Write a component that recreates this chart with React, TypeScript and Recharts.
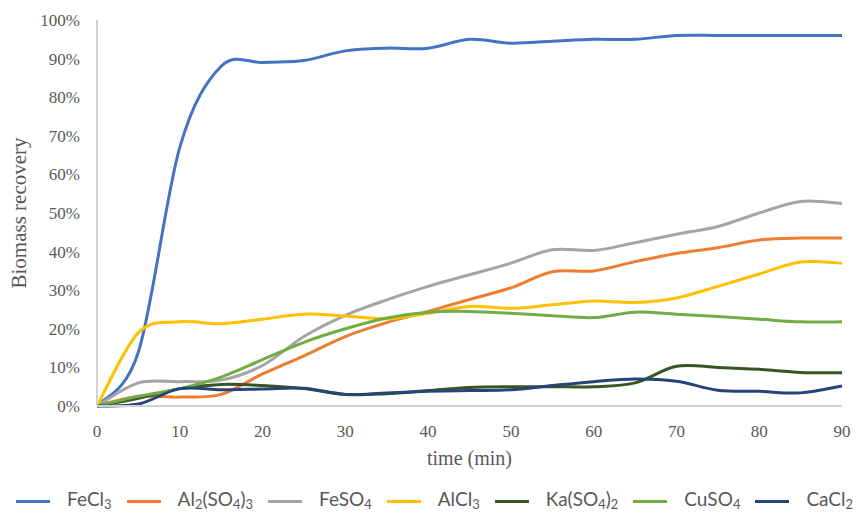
import React from "react";
import { Label, Legend, Line, LineChart, XAxis, YAxis } from "recharts";

// sampling times (min)
const times = [0, 5, 10, 15, 20, 25, 30, 35, 40, 45, 50, 55, 60, 65, 70, 75, 80, 85, 90];

// biomass recovery (%) per coagulant
const fecl3 = [0, 14, 67, 88, 89, 89.5, 92, 92.7, 92.7, 95, 94, 94.5, 95, 95, 96, 96, 96, 96, 96];
const al2so43 = [0, 2.5, 2.3, 3, 8.3, 13, 18, 21.6, 24.5, 27.6, 30.6, 34.8, 35, 37.4, 39.5, 41, 43, 43.5, 43.5];
const feso4 = [0, 6, 6.3, 6.7, 10.5, 18, 23.5, 27.5, 31, 34, 37, 40.5, 40.3, 42.3, 44.5, 46.5, 50, 53, 52.5];
const alcl3 = [0, 19, 21.8, 21.3, 22.5, 23.8, 23.3, 22.6, 24, 25.8, 25.3, 26.2, 27.2, 26.8, 28, 31, 34.2, 37.3, 37];
const kaso42 = [0, 2, 4.5, 5.6, 5.3, 4.5, 3, 3.2, 4, 4.8, 5, 5, 5, 6, 10.3, 10, 9.5, 8.7, 8.6];
const cuso4 = [0, 2.5, 4.5, 7.5, 12, 16.5, 20, 22.8, 24.3, 24.5, 24, 23.4, 22.9, 24.3, 23.8, 23.2, 22.5, 21.8, 21.8];
const cacl2 = [0, 0.5, 4.5, 4.2, 4.4, 4.6, 3, 3.4, 3.8, 4, 4.2, 5.3, 6.3, 7, 6.4, 4.1, 3.8, 3.4, 5.2];

const xTicks = [0, 10, 20, 30, 40, 50, 60, 70, 80, 90];
const yTicks = [0, 10, 20, 30, 40, 50, 60, 70, 80, 90, 100];

// name, formula parts ([text, isSubscript]), values, colour
const series = [
  { key: "FeCl3", parts: [["FeCl", false], ["3", true]], values: fecl3, color: "#4472C4" },
  { key: "Al2(SO4)3", parts: [["Al", false], ["2", true], ["(SO", false], ["4", true], [")", false], ["3", true]], values: al2so43, color: "#ED7D31" },
  { key: "FeSO4", parts: [["FeSO", false], ["4", true]], values: feso4, color: "#A5A5A5" },
  { key: "AlCl3", parts: [["AlCl", false], ["3", true]], values: alcl3, color: "#FFC000" },
  { key: "Ka(SO4)2", parts: [["Ka(SO", false], ["4", true], [")", false], ["2", true]], values: kaso42, color: "#375623" },
  { key: "CuSO4", parts: [["CuSO", false], ["4", true]], values: cuso4, color: "#70AD47" },
  { key: "CaCl2", parts: [["CaCl", false], ["2", true]], values: cacl2, color: "#264478" },
] as const;

const data = times.map((t, i) => {
  const row: Record<string, number> = { t };
  series.forEach((s) => (row[s.key] = s.values[i]));
  return row;
});

// Catmull-Rom style smoothing (same as a spreadsheet "smoothed line")
function smoothCurve(context: any) {
  let pts: [number, number][] = [];
  return {
    areaStart() {},
    areaEnd() {},
    lineStart() {
      pts = [];
    },
    lineEnd() {
      if (!pts.length) return;
      context.moveTo(pts[0][0], pts[0][1]);
      for (let i = 0; i < pts.length - 1; i++) {
        const p0 = pts[i - 1] ?? pts[i];
        const p1 = pts[i];
        const p2 = pts[i + 1];
        const p3 = pts[i + 2] ?? p2;
        context.bezierCurveTo(
          p1[0] + (p2[0] - p0[0]) / 6,
          p1[1] + (p2[1] - p0[1]) / 6,
          p2[0] - (p3[0] - p1[0]) / 6,
          p2[1] - (p3[1] - p1[1]) / 6,
          p2[0],
          p2[1]
        );
      }
    },
    point(x: number, y: number) {
      pts.push([+x, +y]);
    },
  };
}

const serif = '"Liberation Serif", "Times New Roman", serif';
const axisGrey = "#D0D0D0";
const textGrey = "#595959";

function LegendRow() {
  return (
    <div
      style={{
        position: "relative",
        top: 2,
        display: "flex",
        alignItems: "center",
        justifyContent: "space-between",
        width: 859,
        boxSizing: "border-box",
        paddingLeft: 16,
        paddingRight: 6,
        fontFamily: 'Lato, "Noto Sans", sans-serif',
        fontSize: 19,
        lineHeight: "24px",
        color: textGrey,
        whiteSpace: "nowrap",
      }}
    >
      {series.map((s) => (
        <div key={s.key} style={{ display: "flex", alignItems: "center" }}>
          <span
            style={{
              display: "inline-block",
              width: 34,
              height: 3,
              background: s.color,
              marginRight: 17,
            }}
          />
          <span>
            {s.parts.map(([txt, sub], j) =>
              sub ? (
                <sub key={j} style={{ fontSize: "0.68em", verticalAlign: "-0.2em" }}>
                  {txt}
                </sub>
              ) : (
                <span key={j}>{txt}</span>
              )
            )}
          </span>
        </div>
      ))}
    </div>
  );
}

export default function App() {
  return (
    <div style={{ position: "absolute", left: 0, top: 0, background: "#fff" }}>
      <LineChart
        width={859}
        height={515}
        data={data}
        margin={{ top: 20, right: 17, left: 0, bottom: 0 }}
      >
        <XAxis
          dataKey="t"
          type="number"
          domain={[0, 90]}
          ticks={xTicks}
          height={79}
          axisLine={{ stroke: axisGrey, strokeWidth: 2 }}
          tickLine={false}
          tickMargin={13}
          tick={{ fontSize: 17, fill: textGrey, fontFamily: serif }}
        >
          <Label
            value="time (min)"
            position="insideBottom"
            offset={20}
            style={{ fontSize: 20, fill: textGrey, fontFamily: serif }}
          />
        </XAxis>
        <YAxis
          type="number"
          domain={[0, 100]}
          ticks={yTicks}
          width={97}
          axisLine={{ stroke: axisGrey, strokeWidth: 2 }}
          tickLine={false}
          tickMargin={11}
          tickFormatter={(v: number) => `${v}%`}
          tick={{ fontSize: 17, fill: textGrey, fontFamily: serif }}
          label={{
            content: (p: any) => {
              const cy = p.viewBox.y + p.viewBox.height / 2;
              return (
                <text
                  x={19}
                  y={cy}
                  transform={`rotate(-90 19 ${cy})`}
                  textAnchor="middle"
                  dominantBaseline="central"
                  style={{ fontSize: 21, fill: textGrey, fontFamily: serif }}
                >
                  Biomass recovery
                </text>
              );
            },
          }}
        />
        <Legend
          verticalAlign="bottom"
          height={30}
          content={() => <LegendRow />}
        />
        {series.map((s) => (
          <Line
            key={s.key}
            dataKey={s.key}
            type={smoothCurve as any}
            stroke={s.color}
            strokeWidth={3}
            dot={false}
            activeDot={false}
            isAnimationActive={false}
          />
        ))}
      </LineChart>
    </div>
  );
}
